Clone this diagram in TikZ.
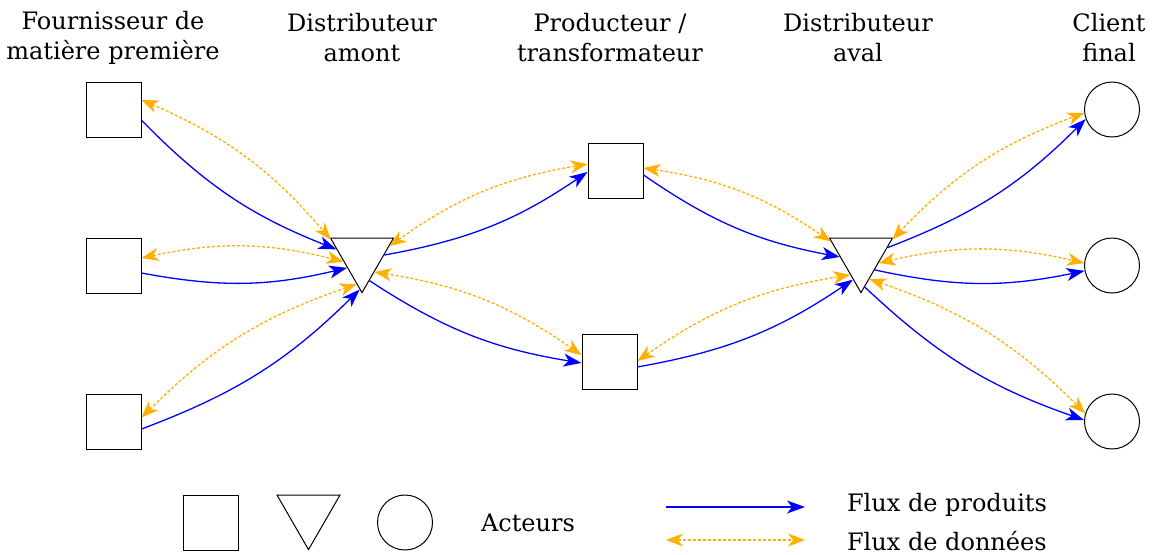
\documentclass[tikz,border=0pt]{standalone}
\usepackage{fontspec}
\setmainfont{DejaVu Serif}
\usetikzlibrary{arrows.meta,shapes.geometric}
\definecolor{fluxorange}{RGB}{255,176,0}
\tikzset{
  acteur/.style={draw,line width=0.5pt,minimum size=27.5pt,inner sep=0pt},
  depot/.style={draw,line width=0.5pt,regular polygon,regular polygon sides=3,shape border rotate=180,minimum size=36.4pt,inner sep=0pt},
  client/.style={draw,line width=0.5pt,circle,minimum size=27.5pt,inner sep=0pt},
  produit/.style={blue,line width=0.65pt,-{Stealth[length=9pt,width=6.5pt,inset=2.5pt]}},
  donnee/.style={fluxorange,line width=0.65pt,dash pattern=on 1.5pt off 1pt,{Stealth[length=8.5pt,width=6.5pt,inset=2.5pt]}-{Stealth[length=8.5pt,width=6.5pt,inset=2.5pt]}},
  titre/.style={align=center,font=\fontsize{12}{15}\selectfont}
}
\begin{document}
\begin{tikzpicture}[x=0.5pt,y=-0.5pt]
\useasboundingbox (0,0) rectangle (1153,554);
% titres
\node[titre] (tf) at (113,38) {Fournisseur de\\matière première};
\node[titre] (ta) at (362,38) {Distributeur\\amont};
\node[titre] (tp) at (610,38) {Producteur /\\transformateur};
\node[titre] (tv) at (858,38) {Distributeur\\aval};
\node[titre] (tc) at (1109,38) {Client\\final};
% acteurs
\foreach \i/\y in {1/109.5,2/265.5,3/421.5} {
  \node[acteur] (f\i) at (113.5,\y) {};
  \node[client] (c\i) at (1112,\y) {};
}
\node[depot] (da) at (362,256.2) {};
\node[depot] (dv) at (861,256.2) {};
\node[acteur] (p1) at (615.5,170.5) {};
\node[acteur] (p2) at (609.5,361.5) {};
% flux : source/angle donnees/angle produits/cible/angle donnees/angle produits
\foreach \a/\ao/\ab/\b/\bo/\bb in {f1/19/-21/da/152/165, f2/15/-15/da/196/218, f3/8/-15/da/259/266,
    da/20/3/p1/167/183, da/-52/-73/p2/167/183, p1/5/-9/dv/154/182, p2/1/-11/dv/240/251,
    dv/28/18/c1/187/200, dv/-21/-45/c2/175/191, dv/-70/-83/c3/163/177} {
  \draw[produit] (\a.\ab) to[bend right=12] (\b.\bb);
  \draw[donnee] (\a.\ao) to[bend left=13] (\b.\bo);
}
% legende
\node[acteur] (la) at (210.5,522.5) {};
\node[depot] (lb) at (308.5,513.2) {};
\node[client] (lc) at (405,522.5) {};
\node[titre] (lt) at (528,522.5) {Acteurs};
\coordinate (pa) at (666,507);
\coordinate (pb) at (805,507);
\coordinate (da1) at (666,540);
\coordinate (da2) at (805,540);
\draw[produit] (pa) -- (pb);
\draw[donnee] (da1) -- (da2);
\node[titre,anchor=west] (lp) at (840,505) {Flux de produits};
\node[titre,anchor=west] (ld) at (840,541) {Flux de données};
\end{tikzpicture}
\end{document}
